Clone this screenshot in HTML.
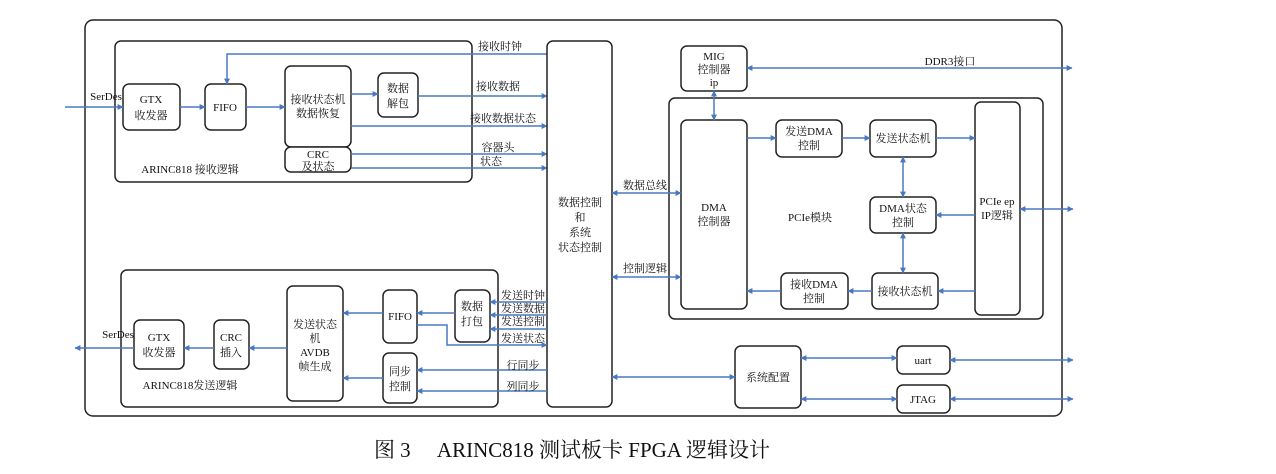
<!DOCTYPE html>
<html><head><meta charset="utf-8"><style>
html,body{margin:0;padding:0;background:#fff;}
svg{display:block;}
text{font-family:"Liberation Serif","Noto Serif CJK SC",serif;font-size:11px;fill:#111;}
.b{fill:#fff;stroke:#222;stroke-width:1.5;}
.l{stroke:#4a78c0;stroke-width:1.5;fill:none;}
.e{marker-end:url(#a);}
.s{marker-start:url(#a);}
</style></head><body>
<svg width="1276" height="474" viewBox="0 0 1276 474" xmlns="http://www.w3.org/2000/svg">
<defs><marker id="a" viewBox="0 0 10 10" refX="9" refY="5" markerWidth="6" markerHeight="6" orient="auto-start-reverse" markerUnits="userSpaceOnUse"><path d="M0,0 L10,5 L0,10 z" fill="#4a78c0"/></marker></defs>

<rect class="b" x="85" y="20" width="977" height="396" rx="8"/>
<!-- receive -->
<rect class="b" x="115" y="41" width="357" height="141" rx="6"/>
<rect class="b" x="123" y="84" width="57" height="46" rx="6"/>
<text x="151" y="103" text-anchor="middle">GTX</text><text x="151" y="119" text-anchor="middle">收发器</text>
<rect class="b" x="205" y="84" width="41" height="46" rx="6"/>
<text x="225" y="111" text-anchor="middle">FIFO</text>
<rect class="b" x="285" y="66" width="66" height="81" rx="6"/>
<text x="318" y="103" text-anchor="middle">接收状态机</text><text x="318" y="117" text-anchor="middle">数据恢复</text>
<rect class="b" x="285" y="147" width="66" height="25" rx="6"/>
<text x="318" y="158" text-anchor="middle">CRC</text><text x="318" y="170" text-anchor="middle">及状态</text>
<rect class="b" x="378" y="73" width="40" height="44" rx="6"/>
<text x="398" y="92" text-anchor="middle">数据</text><text x="398" y="107" text-anchor="middle">解包</text>
<text x="190" y="173" text-anchor="middle">ARINC818 接收逻辑</text>
<text x="106" y="100" text-anchor="middle">SerDes</text>
<path class="l e" d="M65,107 H123"/>
<path class="l e" d="M180,107 H205"/>
<path class="l e" d="M246,107 H285"/>
<path class="l e" d="M351,94 H378"/>
<path class="l e" d="M547,54 H227 V84"/>
<path class="l e" d="M418,96 H547"/>
<path class="l e" d="M351,126 H547"/>
<path class="l e" d="M351,154 H547"/>
<path class="l e" d="M351,168 H547"/>
<text x="500" y="50" text-anchor="middle">接收时钟</text>
<text x="498" y="90" text-anchor="middle">接收数据</text>
<text x="503" y="122" text-anchor="middle">接收数据状态</text>
<text x="498" y="151" text-anchor="middle">容器头</text>
<text x="491" y="165" text-anchor="middle">状态</text>

<!-- data ctrl -->
<rect class="b" x="547" y="41" width="65" height="366" rx="6"/>
<text x="580" y="206" text-anchor="middle">数据控制</text>
<text x="580" y="221" text-anchor="middle">和</text>
<text x="580" y="236" text-anchor="middle">系统</text>
<text x="580" y="251" text-anchor="middle">状态控制</text>

<!-- send -->
<rect class="b" x="121" y="270" width="377" height="137" rx="6"/>
<rect class="b" x="134" y="320" width="50" height="49" rx="6"/>
<text x="159" y="341" text-anchor="middle">GTX</text><text x="159" y="356" text-anchor="middle">收发器</text>
<rect class="b" x="214" y="320" width="35" height="49" rx="6"/>
<text x="231" y="341" text-anchor="middle">CRC</text><text x="231" y="356" text-anchor="middle">插入</text>
<rect class="b" x="287" y="286" width="56" height="115" rx="6"/>
<text x="315" y="328" text-anchor="middle">发送状态</text><text x="315" y="342" text-anchor="middle">机</text>
<text x="315" y="356" text-anchor="middle">AVDB</text><text x="315" y="370" text-anchor="middle">帧生成</text>
<rect class="b" x="383" y="290" width="34" height="53" rx="6"/>
<text x="400" y="320" text-anchor="middle">FIFO</text>
<rect class="b" x="455" y="290" width="35" height="52" rx="6"/>
<text x="472" y="310" text-anchor="middle">数据</text><text x="472" y="325" text-anchor="middle">打包</text>
<rect class="b" x="383" y="353" width="34" height="50" rx="6"/>
<text x="400" y="375" text-anchor="middle">同步</text><text x="400" y="390" text-anchor="middle">控制</text>
<text x="190" y="389" text-anchor="middle">ARINC818发送逻辑</text>
<text x="118" y="338" text-anchor="middle">SerDes</text>
<path class="l e" d="M134,348 H75"/>
<path class="l e" d="M214,348 H184"/>
<path class="l e" d="M287,348 H249"/>
<path class="l e" d="M383,313 H343"/>
<path class="l e" d="M455,313 H417"/>
<path class="l e" d="M383,378 H343"/>
<path class="l e" d="M547,302 H490"/>
<path class="l e" d="M547,315 H490"/>
<path class="l e" d="M547,329 H490"/>
<path class="l e" d="M417,325 H447 V345 H547"/>
<path class="l e" d="M547,370 H417"/>
<path class="l e" d="M547,391 H417"/>
<text x="523" y="299" text-anchor="middle">发送时钟</text>
<text x="523" y="312" text-anchor="middle">发送数据</text>
<text x="523" y="325" text-anchor="middle">发送控制</text>
<text x="523" y="342" text-anchor="middle">发送状态</text>
<text x="523" y="369" text-anchor="middle">行同步</text>
<text x="523" y="390" text-anchor="middle">列同步</text>

<!-- right -->
<rect class="b" x="681" y="46" width="66" height="45" rx="6"/>
<text x="714" y="60" text-anchor="middle">MIG</text><text x="714" y="73" text-anchor="middle">控制器</text><text x="714" y="86" text-anchor="middle">ip</text>
<path class="l e s" d="M747,68 H1072"/>
<text x="950" y="65" text-anchor="middle">DDR3接口</text>
<rect class="b" x="669" y="98" width="374" height="221" rx="6"/>
<rect class="b" x="681" y="120" width="66" height="189" rx="6"/>
<text x="714" y="211" text-anchor="middle">DMA</text><text x="714" y="225" text-anchor="middle">控制器</text>
<path class="l e s" d="M714,91 V120"/>
<rect class="b" x="776" y="120" width="66" height="37" rx="6"/>
<text x="809" y="135" text-anchor="middle">发送DMA</text><text x="809" y="149" text-anchor="middle">控制</text>
<rect class="b" x="870" y="120" width="66" height="37" rx="6"/>
<text x="903" y="142" text-anchor="middle">发送状态机</text>
<rect class="b" x="975" y="102" width="45" height="213" rx="6"/>
<text x="997" y="205" text-anchor="middle">PCIe ep</text><text x="997" y="219" text-anchor="middle">IP逻辑</text>
<rect class="b" x="870" y="197" width="66" height="36" rx="6"/>
<text x="903" y="212" text-anchor="middle">DMA状态</text><text x="903" y="226" text-anchor="middle">控制</text>
<rect class="b" x="872" y="273" width="66" height="36" rx="6"/>
<text x="905" y="295" text-anchor="middle">接收状态机</text>
<rect class="b" x="781" y="273" width="67" height="36" rx="6"/>
<text x="814" y="288" text-anchor="middle">接收DMA</text><text x="814" y="302" text-anchor="middle">控制</text>
<text x="810" y="221" text-anchor="middle">PCIe模块</text>
<path class="l e" d="M747,138 H776"/>
<path class="l e" d="M842,138 H870"/>
<path class="l e" d="M936,138 H975"/>
<path class="l e s" d="M903,157 V197"/>
<path class="l e s" d="M903,233 V273"/>
<path class="l e" d="M975,215 H936"/>
<path class="l e" d="M975,291 H938"/>
<path class="l e" d="M872,291 H848"/>
<path class="l e" d="M781,291 H747"/>
<path class="l e s" d="M1020,209 H1073"/>
<path class="l e s" d="M612,193 H681"/>
<path class="l e s" d="M612,277 H681"/>
<text x="645" y="189" text-anchor="middle">数据总线</text>
<text x="645" y="272" text-anchor="middle">控制逻辑</text>

<rect class="b" x="735" y="346" width="66" height="62" rx="6"/>
<text x="768" y="381" text-anchor="middle">系统配置</text>
<rect class="b" x="897" y="346" width="53" height="28" rx="6"/>
<text x="923" y="364" text-anchor="middle">uart</text>
<rect class="b" x="897" y="385" width="53" height="28" rx="6"/>
<text x="923" y="403" text-anchor="middle">JTAG</text>
<path class="l e s" d="M612,377 H735"/>
<path class="l e s" d="M801,358 H897"/>
<path class="l e s" d="M801,399 H897"/>
<path class="l e s" d="M950,360 H1073"/>
<path class="l e s" d="M950,399 H1073"/>

<text x="572" y="457" text-anchor="middle" style="font-size:21px">图 3　 ARINC818 测试板卡 FPGA 逻辑设计</text>
</svg>
</body></html>
